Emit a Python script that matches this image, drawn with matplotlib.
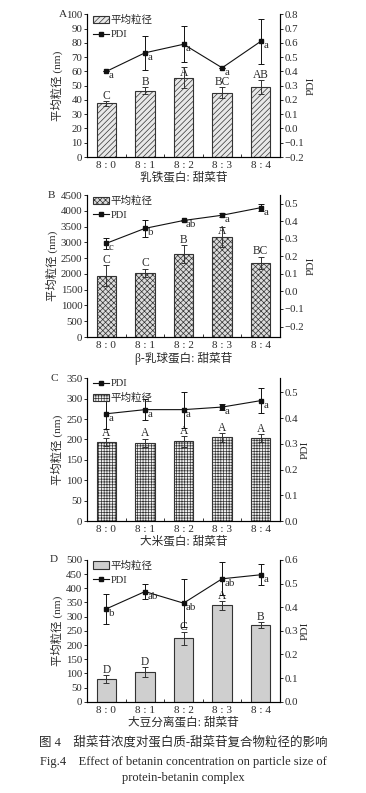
import matplotlib
matplotlib.use("Agg")
import matplotlib.pyplot as plt
import numpy as np
from matplotlib.patches import Patch
from matplotlib.lines import Line2D

plt.rcParams['font.family'] = ['Liberation Serif', 'Noto Sans CJK SC', 'DejaVu Sans']
plt.rcParams['hatch.linewidth'] = 0.5
plt.rcParams['axes.unicode_minus'] = True

ratios = ["8:0", "8:1", "8:2", "8:3", "8:4"]

# A - lactoferrin
size_A = [37.5, 46.5, 55.5, 45, 49]
size_err_A = [1.5, 2.5, 7.5, 4, 5]
size_lbl_A = ["C", "B", "A", "BC", "AB"]
pdi_A = [0.40, 0.53, 0.59, 0.425, 0.61]
pdi_err_A = [0.0, 0.12, 0.125, 0.0, 0.16]
pdi_lbl_A = ["a", "a", "a", "a", "a"]

# B - beta-lactoglobulin
size_B = [1950, 2040, 2630, 3180, 2350]
size_err_B = [330, 130, 290, 320, 200]
size_lbl_B = ["C", "C", "B", "A", "BC"]
pdi_B = [0.275, 0.36, 0.405, 0.435, 0.478]
pdi_err_B = [0.03, 0.05, 0.005, 0.01, 0.02]
pdi_lbl_B = ["c", "b", "ab", "a", "a"]

# C - rice protein
size_C = [193, 192, 195, 205, 203]
size_err_C = [10, 10, 13, 11, 10]
size_lbl_C = ["A", "A", "A", "A", "A"]
pdi_C = [0.417, 0.433, 0.433, 0.443, 0.468]
pdi_err_C = [0.06, 0.04, 0.07, 0.01, 0.05]
pdi_lbl_C = ["a", "a", "a", "a", "a"]

# D - soy protein isolate
size_D = [80, 105, 223, 340, 270]
size_err_D = [15, 18, 22, 15, 10]
size_lbl_D = ["D", "D", "C", "A", "B"]
pdi_D = [0.393, 0.466, 0.417, 0.52, 0.537]
pdi_err_D = [0.063, 0.03, 0.1, 0.07, 0.045]
pdi_lbl_D = ["b", "ab", "ab", "ab", "a"]

# letters that sit on the bar top instead of above the error bar
on_bar = {("A", 2), ("B", 3)}

tc = '#2a2a2a'
fs = 7.8

panels = [
    dict(tag="A", tagx=-0.105, pos=[0.238, 0.802, 0.527, 0.180], size=size_A, serr=size_err_A, slbl=size_lbl_A,
         pdi=pdi_A, perr=pdi_err_A, plbl=pdi_lbl_A, ylim=(0, 100), yticks=np.arange(0, 101, 10),
         rlim=(-0.2, 0.8), rticks=np.arange(-0.2, 0.81, 0.1), hatch='//////', face='#e8e8e8',
         xlabel="乳铁蛋白: 甜菜苷", pdi_first=False),
    dict(tag="B", tagx=-0.165, pos=[0.238, 0.575, 0.527, 0.179], size=size_B, serr=size_err_B, slbl=size_lbl_B,
         pdi=pdi_B, perr=pdi_err_B, plbl=pdi_lbl_B, ylim=(0, 4500), yticks=np.arange(0, 4501, 500),
         rlim=(-0.26, 0.55), rticks=np.arange(-0.2, 0.51, 0.1), hatch='xxxxxx', face='#dcdcdc',
         xlabel="β-乳球蛋白: 甜菜苷", pdi_first=False),
    dict(tag="C", tagx=-0.15, pos=[0.238, 0.343, 0.527, 0.180], size=size_C, serr=size_err_C, slbl=size_lbl_C,
         pdi=pdi_C, perr=pdi_err_C, plbl=pdi_lbl_C, ylim=(0, 350), yticks=np.arange(0, 351, 50),
         rlim=(0, 0.555), rticks=np.arange(0, 0.51, 0.1), hatch='++++++', face='#f0f0f0',
         xlabel="大米蛋白: 甜菜苷", pdi_first=True),
    dict(tag="D", tagx=-0.15, pos=[0.238, 0.115, 0.527, 0.179], size=size_D, serr=size_err_D, slbl=size_lbl_D,
         pdi=pdi_D, perr=pdi_err_D, plbl=pdi_lbl_D, ylim=(0, 500), yticks=np.arange(0, 501, 50),
         rlim=(0, 0.6), rticks=np.arange(0, 0.61, 0.1), hatch=None, face='#cfcfcf',
         xlabel="大豆分离蛋白: 甜菜苷", pdi_first=False),
]

fig = plt.figure(figsize=(3.66, 7.93), dpi=100)

for p in panels:
    ax = fig.add_axes(p['pos'])
    x = np.arange(len(ratios))
    ax.bar(x, p['size'], width=0.5, color=p['face'], edgecolor='#333333', linewidth=0.8,
           hatch=p['hatch'], zorder=2)
    ax.errorbar(x, p['size'], yerr=p['serr'], fmt='none', ecolor='#333333', elinewidth=0.7,
                capsize=2, capthick=0.7, zorder=3)
    for i, (xi, v, e, t) in enumerate(zip(x, p['size'], p['serr'], p['slbl'])):
        base = v if (p['tag'], i) in on_bar else v + e
        ax.annotate(t, (xi, base), xytext=(0, 1.6), textcoords='offset points', ha='center',
                    va='baseline', fontsize=fs + 0.5, color=tc, zorder=5)
    ax.set_xlim(-0.5, 4.5)
    ax.set_ylim(*p['ylim'])
    ax.set_yticks(p['yticks'])
    ax.set_xticks(x)
    ax.set_xticks(x[:-1] + 0.5, minor=True)
    ax.set_xticklabels([r.replace(":", " : ") for r in ratios], fontsize=fs + 0.3, color=tc)
    ax.tick_params(axis='y', labelsize=fs, colors=tc, length=2.5, width=0.7, pad=1)
    ax.tick_params(axis='x', which='major', length=0, pad=3)
    ax.tick_params(axis='x', which='minor', direction='in', length=2, width=0.7, colors='#333333')
    ax.spines['top'].set_visible(False)
    for s in ['left', 'right', 'bottom']:
        ax.spines[s].set_linewidth(0.8)
        ax.spines[s].set_color('#333333')
    ax.set_xlabel(p['xlabel'], fontsize=8.4, color=tc, labelpad=1)
    ax.set_ylabel("平均粒径 (nm)", fontsize=8.2, color=tc, labelpad=2)
    ax.text(p['tagx'], 1.0, p['tag'], transform=ax.transAxes, fontsize=fs + 0.3, color=tc,
            ha='right', va='center')

    ax2 = ax.twinx()
    ax2.errorbar(x, p['pdi'], yerr=p['perr'], fmt='-s', color='#111111', markersize=3, linewidth=0.8,
                 elinewidth=0.7, capsize=2, capthick=0.7, zorder=4)
    for xi, v, t in zip(x, p['pdi'], p['plbl']):
        ax2.annotate(t, (xi, v), xytext=(1.8, -3.2), textcoords='offset points', ha='left',
                     va='center', fontsize=fs, color=tc)
    ax2.set_ylim(*p['rlim'])
    ax2.set_yticks(p['rticks'])
    ax2.set_yticklabels([f"{v:.1f}".replace("-", "\u2212") for v in p['rticks']])
    ax2.tick_params(axis='y', labelsize=fs, colors=tc, length=2.5, width=0.7, pad=1)
    ax2.spines['top'].set_visible(False)
    ax2.spines['right'].set_linewidth(0.8)
    ax2.set_ylabel("PDI", fontsize=8.2, color=tc, labelpad=1.5)

    bar_h = Patch(facecolor=p['face'], edgecolor='#333333', hatch=p['hatch'], linewidth=0.8)
    line_h = Line2D([], [], color='#111111', marker='s', markersize=3, linewidth=0.8)
    if p['pdi_first']:
        handles, labels = [line_h, bar_h], ["PDI", "平均粒径"]
    else:
        handles, labels = [bar_h, line_h], ["平均粒径", "PDI"]
    ax2.legend(handles, labels, loc='upper left', bbox_to_anchor=(0.0, 1.035), frameon=False,
               fontsize=7.6, handlelength=1.5, handleheight=0.7, handletextpad=0.15,
               labelspacing=0.45, borderaxespad=0.15, borderpad=0.4, labelcolor=tc)

fig.text(0.5, 0.064, "图 4　甜菜苷浓度对蛋白质-甜菜苷复合物粒径的影响", ha='center', va='center',
         fontsize=9, color=tc)
fig.text(0.5, 0.039, "Fig.4　Effect of betanin concentration on particle size of", ha='center',
         va='center', fontsize=9, color=tc)
fig.text(0.5, 0.019, "protein-betanin complex", ha='center', va='center', fontsize=9, color=tc)

fig.savefig("out.png", dpi=100)
